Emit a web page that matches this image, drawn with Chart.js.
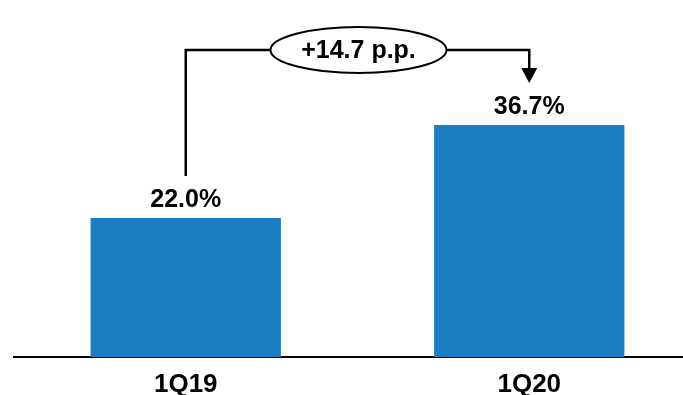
<!DOCTYPE html>
<html>
<head>
<meta charset="utf-8">
<script src="https://cdn.jsdelivr.net/npm/chart.js@4.4.1/dist/chart.umd.min.js"></script>
<style>
  html, body { margin: 0; padding: 0; background: #fff; overflow: hidden; }
  /* plot runs a little past the right edge so the axis line goes all the way */
  #wrap { width: 701px; height: 413px; position: relative; }
</style>
</head>
<body>
<div id="wrap"><canvas id="myChart"></canvas></div>
<script>
// share by quarter (%)
var quarters = ["1Q19", "1Q20"];
var shareValues = [22.0, 36.7];
var barColor = "#1b7dc3";
var fontFamily = '"Liberation Sans", Arial, sans-serif';

// percentage above each bar
var valueLabels = {
  id: "valueLabels",
  afterDatasetsDraw: function (chart) {
    var ctx = chart.ctx;
    var meta = chart.getDatasetMeta(0);
    ctx.save();
    ctx.fillStyle = "#000";
    ctx.font = "bold 25px " + fontFamily;
    ctx.textAlign = "center";
    ctx.textBaseline = "alphabetic";
    meta.data.forEach(function (bar, i) {
      ctx.fillText(shareValues[i].toFixed(1) + "%", bar.x, bar.y - 11);
    });
    ctx.restore();
  }
};

// bracket from 1Q19 to 1Q20 with the change in an oval
var changeBracket = {
  id: "changeBracket",
  afterDatasetsDraw: function (chart) {
    var ctx = chart.ctx;
    var meta = chart.getDatasetMeta(0);
    var a = meta.data[0], b = meta.data[1];
    var topY = 50;
    var gap = 42;
    var diff = shareValues[1] - shareValues[0];
    var cx = (a.x + b.x) / 2 + 1;
    var tip = b.y - gap;

    ctx.save();
    ctx.strokeStyle = "#000";
    ctx.lineWidth = 2.5;
    ctx.beginPath();
    ctx.moveTo(a.x, a.y - gap);
    ctx.lineTo(a.x, topY);
    ctx.lineTo(b.x, topY);
    ctx.lineTo(b.x, tip - 14);
    ctx.stroke();

    // arrow head
    ctx.fillStyle = "#000";
    ctx.beginPath();
    ctx.moveTo(b.x, tip);
    ctx.lineTo(b.x - 8, tip - 15);
    ctx.lineTo(b.x + 8, tip - 15);
    ctx.closePath();
    ctx.fill();

    // oval
    ctx.lineWidth = 2;
    ctx.fillStyle = "#fff";
    ctx.beginPath();
    ctx.ellipse(cx, topY, 88, 23, 0, 0, Math.PI * 2);
    ctx.fill();
    ctx.stroke();

    ctx.fillStyle = "#000";
    ctx.font = "bold 25px " + fontFamily;
    ctx.textAlign = "center";
    ctx.textBaseline = "middle";
    ctx.fillText("+" + diff.toFixed(1) + " p.p.", cx, topY + 1);

    // chart heading, mostly above the top edge
    ctx.font = "bold 22px " + fontFamily;
    ctx.textBaseline = "alphabetic";
    ctx.fillText("(%)", 353, -5);
    ctx.restore();
  }
};

new Chart("myChart", {
  type: "bar",
  data: {
    labels: quarters,
    datasets: [{
      data: shareValues,
      backgroundColor: barColor,
      barPercentage: 0.554,
      categoryPercentage: 1
    }]
  },
  options: {
    responsive: true,
    maintainAspectRatio: false,
    animation: false,
    layout: {
      padding: { left: 14, right: 0, top: 0, bottom: 0 }
    },
    plugins: {
      legend: { display: false },
      tooltip: { enabled: false }
    },
    scales: {
      x: {
        grid: { display: false, drawTicks: false },
        border: { display: true, color: "#000", width: 2 },
        ticks: {
          color: "#000",
          padding: 15,
          font: { family: fontFamily, size: 26, weight: "bold", lineHeight: 1 }
        }
      },
      y: {
        display: false,
        min: 0,
        max: 56.5
      }
    }
  },
  plugins: [valueLabels, changeBracket]
});
</script>
</body>
</html>
